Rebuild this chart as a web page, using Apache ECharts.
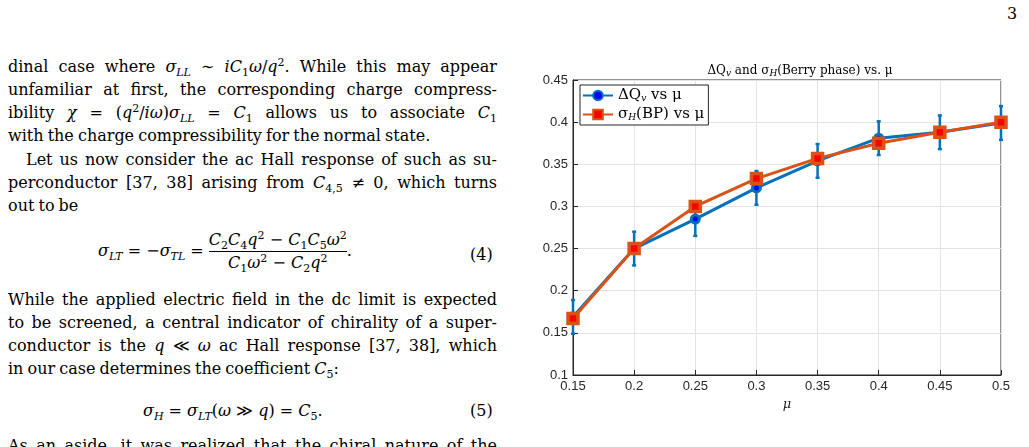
<!DOCTYPE html>
<html><head><meta charset="utf-8">
<script src="https://cdn.jsdelivr.net/npm/echarts@6/dist/echarts.min.js"></script>
<style>
body{margin:0;width:1029px;height:447px;background:#fff;overflow:hidden;position:relative;font-family:"DejaVu Serif",serif;font-size:16px;color:#000}
.l{position:absolute;left:8px;width:489px;white-space:nowrap;text-align:justify;text-align-last:justify;line-height:20px;word-spacing:-1px}
.l.n{text-align-last:left}
.eq{position:absolute;white-space:nowrap;line-height:20px}
sub,sup{font-size:11px;line-height:0}
i{font-style:italic}
#c{position:absolute;left:0;top:0;width:1029px;height:447px}
.fr{display:inline-block;vertical-align:middle;text-align:center;line-height:22px}
</style></head><body>
<div class="eq" style="left:1007px;top:4px">3</div>
<div class="l" style="top:57px">dinal case where <i>σ<sub>LL</sub></i> ∼ <i>iC</i><sub>1</sub><i>ω</i>/<i>q</i><sup>2</sup>. While this may appear</div>
<div class="l" style="top:80px">unfamiliar at first, the corresponding charge compress-</div>
<div class="l" style="top:103px">ibility <i>χ</i> = (<i>q</i><sup>2</sup>/<i>iω</i>)<i>σ<sub>LL</sub></i> = <i>C</i><sub>1</sub> allows us to associate <i>C</i><sub>1</sub></div>
<div class="l n" style="top:126px">with the charge compressibility for the normal state.</div>
<div class="l" style="top:150px;left:26px;width:471px">Let us now consider the ac Hall response of such as su-</div>
<div class="l" style="top:173px">perconductor [37, 38] arising from <i>C</i><sub>4,5</sub> ≠ 0, which turns</div>
<div class="l n" style="top:196px">out to be</div>
<div class="eq" style="left:98px;top:229px"><i>σ<sub>LT</sub></i> = −<i>σ<sub>TL</sub></i> = <span class="fr"><span style="display:block;border-bottom:1px solid #000"><i>C</i><sub>2</sub><i>C</i><sub>4</sub><i>q</i><sup>2</sup> − <i>C</i><sub>1</sub><i>C</i><sub>5</sub><i>ω</i><sup>2</sup></span><span style="display:block"><i>C</i><sub>1</sub><i>ω</i><sup>2</sup> − <i>C</i><sub>2</sub><i>q</i><sup>2</sup></span></span>.</div>
<div class="eq" style="left:470px;top:245px">(4)</div>
<div class="l" style="top:290px">While the applied electric field in the dc limit is expected</div>
<div class="l" style="top:313px">to be screened, a central indicator of chirality of a super-</div>
<div class="l" style="top:336px">conductor is the <i>q</i> ≪ <i>ω</i> ac Hall response [37, 38], which</div>
<div class="l n" style="top:359px">in our case determines the coefficient <i>C</i><sub>5</sub>:</div>
<div class="eq" style="left:143px;top:401px"><i>σ<sub>H</sub></i> = <i>σ<sub>LT</sub></i>(<i>ω</i> ≫ <i>q</i>) = <i>C</i><sub>5</sub>.</div>
<div class="eq" style="left:470px;top:401px">(5)</div>
<div class="l" style="top:436px">As an aside, it was realized that the chiral nature of the</div>
<div id="c"></div>
<script>
const mu=[0.15,0.2,0.25,0.3,0.35,0.4,0.45,0.5];
const dQ=[0.169,0.250,0.285,0.322,0.354,0.381,0.388,0.399];
const dQerr=[0.020,0.020,0.020,0.020,0.020,0.020,0.020,0.020];
const sigH=[0.167,0.250,0.300,0.333,0.357,0.375,0.388,0.400];
const chart=echarts.init(document.getElementById('c'));
const blue='#0072BD',orange='#D95319';
const fmt=v=>String(+v.toFixed(2));
const ser={fontFamily:'DejaVu Serif',fontSize:13,color:'#000'};
const sub={fontFamily:'DejaVu Serif',fontSize:9,fontStyle:'italic',color:'#000',verticalAlign:'bottom',padding:[6,0,0,0]};
chart.setOption({
 animation:false,
 title:{text:'ΔQ{s|v} and σ{s|H}(Berry phase) vs. μ',left:795,top:58,textAlign:'center',
   textStyle:Object.assign({fontWeight:'normal',rich:{s:sub}},ser,{fontSize:12})},
 grid:{left:573,right:28,top:80,bottom:72,show:true,borderColor:'#262626',borderWidth:1},
 xAxis:{type:'value',min:0.15,max:0.5,interval:0.05,name:'μ',nameLocation:'middle',nameGap:22,
   nameTextStyle:{fontFamily:'DejaVu Serif',fontStyle:'italic',fontSize:13,color:'#222'},
   axisLine:{onZero:false,lineStyle:{color:'#262626'}},axisTick:{inside:true,lineStyle:{color:'#262626'}},
   axisLabel:{formatter:fmt,color:'#262626',fontSize:13,fontFamily:'Liberation Sans',margin:5},
   splitLine:{lineStyle:{color:'#e3e3e3'}}},
 yAxis:{type:'value',min:0.1,max:0.45,interval:0.05,
   axisLine:{show:true,lineStyle:{color:'#262626'}},axisTick:{inside:true,lineStyle:{color:'#262626'}},
   axisLabel:{formatter:fmt,color:'#262626',fontSize:13,fontFamily:'Liberation Sans',margin:5},
   splitLine:{lineStyle:{color:'#e3e3e3'}}},
 legend:{left:580,top:85,orient:'vertical',itemGap:4,itemWidth:30,itemHeight:12,
   backgroundColor:'#fff',borderColor:'#262626',borderWidth:1,padding:[3,4,3,2],
   formatter:n=>n==='dQ'?'ΔQ{s|v} vs μ':'σ{s|H}(BP) vs μ',
   textStyle:Object.assign({rich:{s:sub}},ser,{fontSize:15}),
   data:[{name:'dQ',itemStyle:{color:'#0000ff',borderColor:blue}},{name:'sig',itemStyle:{color:'#ff0000',borderColor:orange}}]},
 series:[
  {type:'custom',name:'err',data:mu.map((m,i)=>[m,dQ[i]-dQerr[i],dQ[i]+dQerr[i]]),z:3,silent:true,
   renderItem:(p,api)=>{const lo=api.coord([api.value(0),api.value(1)]),hi=api.coord([api.value(0),api.value(2)]);
    const s={stroke:blue,lineWidth:2.5};
    return {type:'group',children:[
     {type:'line',shape:{x1:lo[0],y1:lo[1],x2:hi[0],y2:hi[1]},style:s},
     {type:'line',shape:{x1:lo[0]-2,y1:lo[1],x2:lo[0]+2,y2:lo[1]},style:s},
     {type:'line',shape:{x1:hi[0]-2,y1:hi[1],x2:hi[0]+2,y2:hi[1]},style:s}]};}},
  {type:'line',name:'dQ',data:mu.map((m,i)=>[m,dQ[i]]),lineStyle:{width:3,color:blue},
   symbol:'circle',symbolSize:8,itemStyle:{color:'#0000ff',borderColor:blue,borderWidth:3},z:4},
  {type:'line',name:'sig',data:mu.map((m,i)=>[m,sigH[i]]),lineStyle:{width:3,color:orange},
   symbol:'rect',symbolSize:10,itemStyle:{color:'#ff0000',borderColor:orange,borderWidth:3.5},z:5}
 ]});
</script>
</body></html>
